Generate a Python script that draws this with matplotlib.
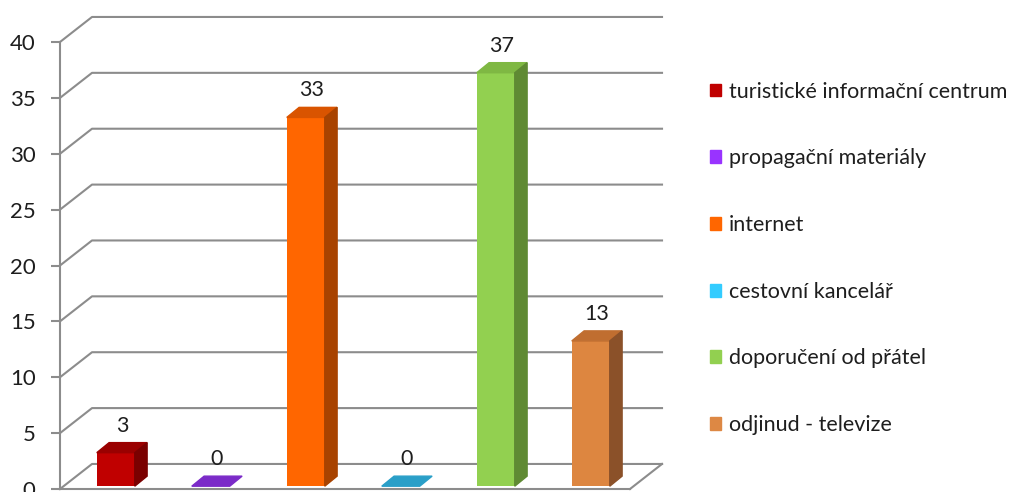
import matplotlib
matplotlib.use("Agg")
import matplotlib.pyplot as plt
from matplotlib.patches import Polygon, Patch

plt.rcParams['font.family'] = ['Lato', 'DejaVu Sans']

categories = ["turistické informační centrum", "propagační materiály", "internet",
              "cestovní kancelář", "doporučení od přátel", "odjinud - televize"]
values = [3, 0, 33, 0, 37, 13]
y_ticks = [0, 5, 10, 15, 20, 25, 30, 35, 40]

front_colors = ["#C00000", "#7B2BC8", "#FF6600", "#2A9FC8", "#92D050", "#DD8640"]
top_colors = ["#9A0000", "#7B2BC8", "#D95400", "#2A9FC8", "#7FB843", "#C06E30"]
side_colors = ["#7A0000", "#5A1E95", "#A84300", "#1F7A9A", "#5F8A33", "#8B5129"]
legend_colors = ["#C00000", "#9933FF", "#FF6600", "#33CCFF", "#92D050", "#DD8844"]

GRID = "#8C8C8C"
TEXT = "#1E1E1E"

fig = plt.figure(figsize=(10.21, 4.92), dpi=100)
ax = fig.add_axes([60 / 1021, 3 / 492, 570 / 1021, 447 / 492])
x0, x1 = -0.56, 5.44
ax.set_xlim(x0, x1)
ax.set_ylim(0, 40)

# depth of the back wall and of the bars (data units)
DX, DY = 0.337, 2.24
BDX, BDY = 0.13, 0.9
FDX, FDY = 0.027, 0.25
width = 0.4

for v in y_ticks:
    ax.plot([x0, x0 + DX, x1 + DX], [v, v + DY, v + DY], color=GRID, lw=1.5,
            clip_on=False, zorder=1)
ax.plot([x1, x1 + DX], [0, DY], color=GRID, lw=1.5, clip_on=False, zorder=1)

xs = [i + FDX for i in range(len(values))]
ax.bar(xs, values, width, bottom=FDY, color=front_colors, zorder=3)

for i, v in enumerate(values):
    xl = xs[i] - width / 2
    xr = xs[i] + width / 2
    b = FDY
    t = v + FDY
    ax.add_patch(Polygon([(xl, t), (xr, t), (xr + BDX, t + BDY), (xl + BDX, t + BDY)],
                         closed=True, color=top_colors[i], zorder=3, clip_on=False))
    if v > 0:
        ax.add_patch(Polygon([(xr, b), (xr + BDX, b + BDY), (xr + BDX, t + BDY), (xr, t)],
                             closed=True, color=side_colors[i], zorder=3, clip_on=False))
    ax.annotate(str(v), (xs[i] + BDX / 2, t + BDY), xytext=(0, 5), textcoords="offset points",
                ha="center", va="bottom", fontsize=15.5, color=TEXT, zorder=4)

for s in ["top", "right"]:
    ax.spines[s].set_visible(False)
ax.spines["left"].set_color(GRID)
ax.spines["left"].set_linewidth(1.5)
ax.spines["bottom"].set_color(GRID)
ax.spines["bottom"].set_linewidth(1.5)
ax.set_xticks([])
ax.set_yticks(y_ticks)
ax.tick_params(axis="y", direction="out", length=6.5, width=1.5, color=GRID,
               labelsize=16, labelcolor=TEXT, pad=11)

handles = [Patch(facecolor=c, edgecolor=c) for c in legend_colors]
fig.legend(handles, categories, loc="upper left", bbox_to_anchor=(701 / 1021, 1 - 73 / 492),
           frameon=False, fontsize=15.5, handlelength=0.55, handleheight=0.55,
           handletextpad=0.35, labelspacing=2.17, borderaxespad=0,
           labelcolor=TEXT)

fig.savefig("out.png", dpi=100)
